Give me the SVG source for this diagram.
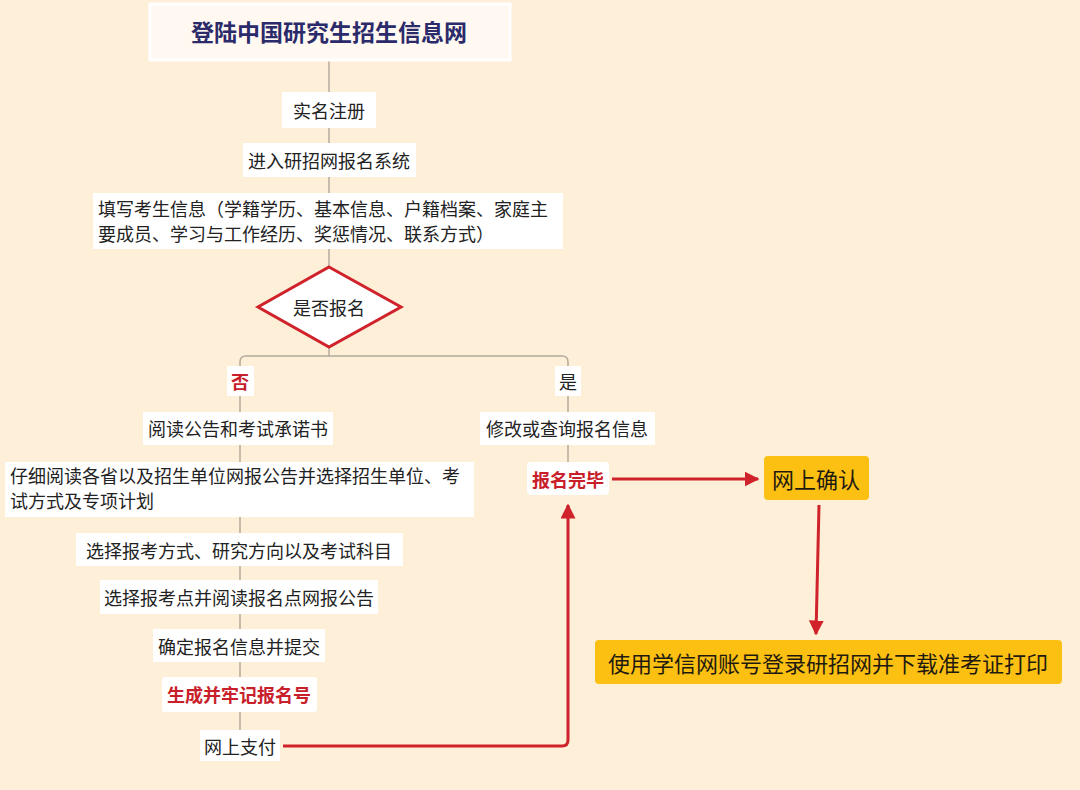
<svg xmlns="http://www.w3.org/2000/svg" width="1080" height="790" viewBox="0 0 1080 790">
<defs>
<style>
.t{font-family:"Noto Sans CJK SC","Noto Sans",sans-serif;font-size:18px;fill:#222;}
.c{text-anchor:middle;dominant-baseline:central;}
.r{fill:#C8202A;font-weight:bold;}
.box{fill:#fff;}
.amber{fill:#FBC012;}
.big{font-size:22px;fill:#1f1a10;}
.line{fill:none;stroke:#B3AA9C;stroke-width:1.5;}
.red{fill:none;stroke:#D0222B;stroke-width:3;}
</style>
<marker id="ah" viewBox="0 0 10 10" refX="9" refY="5" markerWidth="5" markerHeight="5" orient="auto" markerUnits="strokeWidth">
<path d="M0,0 L10,5 L0,10 Z" fill="#D0222B"/>
</marker>
</defs>
<rect width="1080" height="790" fill="#FEEFD9"/>
<g id="connectors">
<line class="line" x1="329" y1="60" x2="329" y2="266"/>
<line class="line" x1="329" y1="348" x2="329" y2="356"/>
<path class="line" d="M240,730 V362 Q240,356 246,356 H562 Q568,356 568,362 V462"/>
<path class="red" d="M283,746 H562 Q568,746 568,740 V505" marker-end="url(#ah)"/>
<line class="red" x1="612" y1="479" x2="758" y2="479" marker-end="url(#ah)"/>
<line class="red" x1="819" y1="505" x2="816" y2="634" marker-end="url(#ah)"/>
</g>
<g id="title">
<rect x="150" y="4" width="360" height="56" fill="#FFF9F1" stroke="#fff" stroke-width="3"/>
<text class="t c" x="329" y="31" style="font-size:23px;font-weight:bold;fill:#2B2A6B">登陆中国研究生招生信息网</text>
</g>
<g id="n1"><rect class="box" x="282" y="92" width="94" height="36"/><text class="t c" x="329" y="110">实名注册</text></g>
<g id="n2"><rect class="box" x="243" y="143" width="173" height="34"/><text class="t c" x="329" y="160">进入研招网报名系统</text></g>
<g id="n3"><rect class="box" x="93" y="193" width="470" height="56"/>
<text class="t" x="98" y="216">填写考生信息（学籍学历、基本信息、户籍档案、家庭主</text>
<text class="t" x="98" y="241">要成员、学习与工作经历、奖惩情况、联系方式）</text></g>
<g id="decision"><polygon points="329,267 401,307 329,347 258,307" fill="#fff" stroke="#D0222B" stroke-width="3"/><text class="t c" x="329" y="307">是否报名</text></g>
<g id="no"><rect class="box" x="227" y="366" width="27" height="30"/><text class="t c r" x="240" y="381">否</text></g>
<g id="yes"><rect class="box" x="555" y="366" width="26" height="30"/><text class="t c" x="568" y="381">是</text></g>
<g id="n4"><rect class="box" x="143" y="412" width="190" height="33"/><text class="t c" x="238" y="428">阅读公告和考试承诺书</text></g>
<g id="n5"><rect class="box" x="480" y="412" width="175" height="33"/><text class="t c" x="567" y="428">修改或查询报名信息</text></g>
<g id="n6"><rect class="box" x="5" y="462" width="469" height="55"/>
<text class="t" x="10" y="483">仔细阅读各省以及招生单位网报公告并选择招生单位、考</text>
<text class="t" x="10" y="508">试方式及专项计划</text></g>
<g id="n7"><rect class="box" x="527" y="462" width="82" height="33" rx="4"/><text class="t c r" x="568" y="479">报名完毕</text></g>
<g id="n8"><rect class="amber" x="764" y="456" width="105" height="44" rx="4"/><text class="t c big" x="816" y="478">网上确认</text></g>
<g id="n9"><rect class="amber" x="595" y="640" width="467" height="44" rx="4"/><text class="t c big" x="828" y="662">使用学信网账号登录研招网并下载准考证打印</text></g>
<g id="n10"><rect class="box" x="76" y="533" width="327" height="33"/><text class="t c" x="239" y="550">选择报考方式、研究方向以及考试科目</text></g>
<g id="n11"><rect class="box" x="100" y="580" width="278" height="34"/><text class="t c" x="239" y="597">选择报考点并阅读报名点网报公告</text></g>
<g id="n12"><rect class="box" x="153" y="629" width="172" height="33"/><text class="t c" x="239" y="646">确定报名信息并提交</text></g>
<g id="n13"><rect class="box" x="162" y="677" width="155" height="35" rx="3"/><text class="t c r" x="239" y="694">生成并牢记报名号</text></g>
<g id="n14"><rect class="box" x="200" y="730" width="80" height="31"/><text class="t c" x="240" y="746">网上支付</text></g>
</svg>
